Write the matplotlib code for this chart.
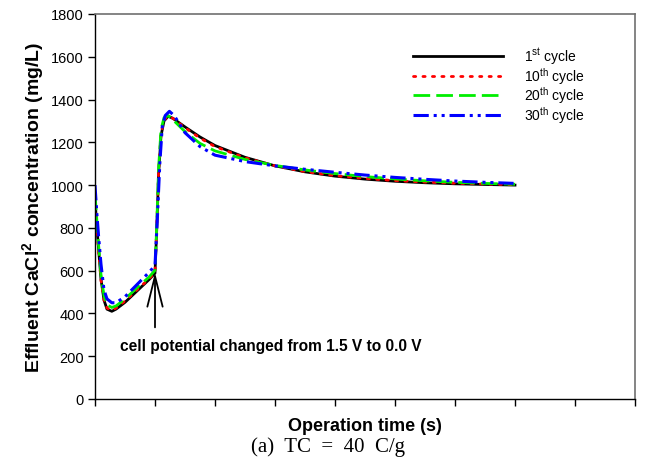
import matplotlib
matplotlib.use("Agg")
import matplotlib.pyplot as plt

plt.rcParams['font.family'] = ['Liberation Sans', 'DejaVu Sans']
plt.rcParams['mathtext.fontset'] = 'custom'
plt.rcParams['mathtext.rm'] = 'Liberation Sans'
plt.rcParams['mathtext.bf'] = 'Liberation Sans:bold'

# Operation time (arbitrary units, one tick = 100)
t_1 = [0, 3, 6, 10, 15, 20, 28, 35, 50, 70, 90, 100, 103, 106, 110, 115, 122, 130,
       150, 175, 200, 250, 300, 350, 400, 450, 500, 550, 600, 650, 700]
t_30 = [0, 3, 6, 10, 15, 20, 28, 35, 50, 70, 90, 100, 104, 108, 112, 117, 124, 132,
        150, 175, 200, 250, 300, 350, 400, 450, 500, 550, 600, 650, 700]

# Effluent CaCl2 concentration (mg/L)
cycle_1 = [930, 810, 700, 560, 462, 420, 410, 420, 452, 505, 558, 588, 800, 1050, 1230,
           1300, 1322, 1312, 1272, 1225, 1185, 1130, 1090, 1062, 1042, 1028, 1018, 1011,
           1006, 1003, 1000]
cycle_10 = [910, 800, 690, 555, 464, 425, 415, 425, 458, 510, 562, 592, 810, 1060, 1240,
            1305, 1322, 1312, 1268, 1220, 1180, 1128, 1090, 1063, 1044, 1031, 1021, 1014,
            1009, 1005, 1002]
cycle_20 = [960, 840, 720, 580, 482, 440, 428, 435, 468, 520, 570, 602, 820, 1080, 1260,
            1315, 1325, 1305, 1250, 1195, 1160, 1120, 1092, 1071, 1054, 1040, 1029, 1020,
            1013, 1008, 1004]
cycle_30 = [1000, 870, 760, 630, 510, 468, 450, 450, 478, 535, 592, 624, 850, 1100, 1270,
            1325, 1345, 1325, 1245, 1180, 1140, 1110, 1090, 1074, 1060, 1047, 1036, 1027,
            1019, 1013, 1008]

labels = [r'1$^{\mathrm{st}}$ cycle', r'10$^{\mathrm{th}}$ cycle',
          r'20$^{\mathrm{th}}$ cycle', r'30$^{\mathrm{th}}$ cycle']

y_ticks = [0, 200, 400, 600, 800, 1000, 1200, 1400, 1600, 1800]

fig = plt.figure(figsize=(6.47, 4.64), dpi=100)
ax = fig.add_axes([95 / 647, 1 - 400 / 464, 540 / 647, 385 / 464])

ax.plot(t_1, cycle_1, color='black', lw=2.0, ls='-', label=labels[0])
ax.plot(t_1, cycle_10, color='red', lw=2.0, ls=(0, (0.8, 2.6)), label=labels[1],
        dash_capstyle='round')
ax.plot(t_1, cycle_20, color='#00ee00', lw=2.0, ls=(0, (6, 2.2)), label=labels[2])
ax.plot(t_30, cycle_30, color='blue', lw=2.2, ls=(0, (5, 1.6, 1, 1.6, 1, 1.6)),
        label=labels[3])

ax.set_xlim(0, 900)
ax.set_ylim(0, 1800)
ax.set_xticks(range(0, 901, 100))
ax.set_xticklabels([])
ax.set_yticks(y_ticks)
ax.tick_params(axis='both', direction='out', length=5, width=1, labelsize=10.5,
               colors='black', pad=3)

for side in ('left', 'bottom'):
    ax.spines[side].set_color('black')
    ax.spines[side].set_linewidth(1.0)
for side in ('top', 'right'):
    ax.spines[side].set_color('#707070')
    ax.spines[side].set_linewidth(1.2)

ax.set_ylabel(r'Effluent CaCl$^{\mathbf{2}}$ concentration (mg/L)', fontsize=14,
              fontweight='bold', labelpad=3)
ax.set_xlabel('Operation time (s)', fontsize=13, fontweight='bold', labelpad=5)

ax.annotate('', xy=(100, 592), xytext=(100, 335),
            arrowprops=dict(arrowstyle='->,head_length=2.2,head_width=0.55',
                            color='black', lw=1.3, shrinkA=0, shrinkB=0))
ax.text(42, 250, 'cell potential changed from 1.5 V to 0.0 V', fontsize=11.2,
        fontweight='bold', va='center', ha='left')

leg = ax.legend(loc='upper right', bbox_to_anchor=(0.93, 0.95), frameon=False,
                fontsize=10, handlelength=6.5, handletextpad=1.5, labelspacing=-0.1)

fig.text(328 / 647, 1 - 447 / 464, '(a)  TC  =  40  C/g', fontsize=15,
         family='Liberation Serif', ha='center', va='center')

fig.savefig('out.png', dpi=100)
